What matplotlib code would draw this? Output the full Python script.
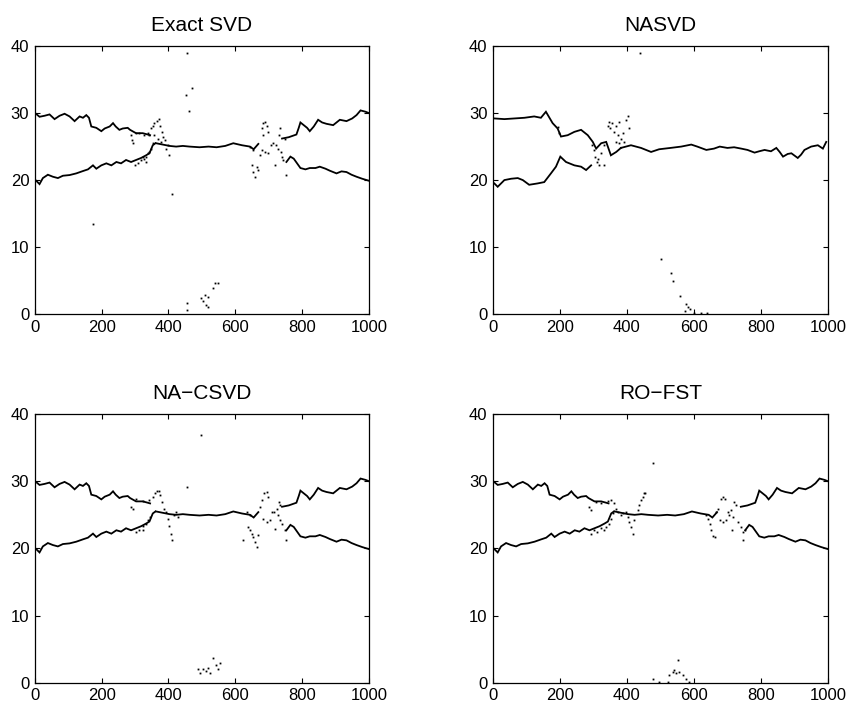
import numpy as np
import matplotlib
matplotlib.use("Agg")
import matplotlib.pyplot as plt

plt.rcParams["font.family"] = ["Liberation Sans", "DejaVu Sans"]

# ---- shared source tracks (Exact SVD / NA-CSVD / RO-FST look the same off the crossings) ----
up_left_x = [2, 14, 29, 44, 59, 74, 89, 104, 119, 134, 144, 154, 162, 169, 184, 199,
             209, 224, 234, 242, 253, 263, 278, 285, 303, 323, 338, 345]
up_left_y = [29.95, 29.45, 29.6, 29.8, 29.1, 29.6, 29.9, 29.5, 28.8, 29.5, 29.3, 29.7,
             29.3, 28.0, 27.8, 27.3, 27.7, 28.0, 28.5, 28.0, 27.5, 27.7, 27.8, 27.5,
             27.0, 27.0, 26.8, 26.7]
lo_left_x = [2, 14, 24, 39, 54, 69, 84, 104, 124, 144, 159, 174, 184, 199, 214, 229,
             244, 258, 273, 288, 303, 318, 333, 343, 353, 361]
lo_left_y = [20.0, 19.4, 20.3, 20.8, 20.5, 20.3, 20.65, 20.75, 21.0, 21.35, 21.6, 22.2,
             21.7, 22.2, 22.5, 22.2, 22.7, 22.5, 23.0, 22.7, 23.0, 23.3, 23.7, 24.0,
             25.2, 25.5]
mid_x = [363, 383, 403, 423, 443, 463, 493, 520, 544, 570, 594, 620, 644, 655, 669]
mid_y = [25.5, 25.3, 25.1, 25.0, 25.1, 25.0, 24.9, 25.0, 24.9, 25.1, 25.5, 25.2, 25.0,
         24.6, 25.4]
up_right_x = [740, 760, 783, 790, 795, 805, 815, 823, 835, 848, 860, 873, 893, 913, 933,
              950, 963, 975, 990, 1000]
up_right_y = [26.2, 26.4, 26.8, 27.8, 28.6, 28.2, 27.8, 27.3, 28.0, 29.0, 28.6, 28.4,
              28.2, 29.0, 28.8, 29.2, 29.7, 30.4, 30.2, 30.0]
lo_right_x = [753, 765, 775, 785, 795, 810, 823, 840, 853, 870, 883, 903, 918, 933, 948,
              963, 980, 1000]
lo_right_y = [22.7, 23.5, 23.2, 22.5, 21.8, 21.6, 21.8, 21.8, 22.0, 21.7, 21.4, 21.0,
              21.3, 21.2, 20.8, 20.5, 20.2, 19.9]

# ---- NASVD tracks ----
na_up_x = [4, 34, 64, 94, 123, 143, 158, 178, 193, 203, 223, 243, 263, 283, 298, 308,
           323, 338, 352, 368, 382]
na_up_y = [29.2, 29.1, 29.2, 29.3, 29.5, 29.3, 30.2, 28.5, 27.7, 26.5, 26.7, 27.2, 27.5,
           26.7, 25.7, 24.7, 25.5, 25.7, 23.7, 24.2, 24.8]
na_lo_x = [4, 14, 34, 54, 74, 89, 108, 133, 153, 173, 188, 201, 218, 243, 263, 278, 293]
na_lo_y = [19.5, 19.0, 20.0, 20.2, 20.3, 20.0, 19.3, 19.5, 19.7, 21.0, 22.0, 23.5, 22.7,
           22.2, 22.0, 21.5, 22.2]
na_mid_x = [382, 412, 442, 472, 496, 530, 562, 592, 610, 637, 660, 677, 700, 720, 741,
            760, 781, 795, 811, 830, 846, 856, 866, 880, 891, 910, 920, 930, 950, 970,
            985, 995]
na_mid_y = [24.8, 25.2, 24.8, 24.2, 24.6, 24.8, 25.0, 25.3, 25.0, 24.5, 24.7, 25.0, 24.8,
            24.9, 24.7, 24.5, 24.1, 24.3, 24.5, 24.3, 24.8, 24.2, 23.5, 23.9, 24.0, 23.3,
            23.8, 24.5, 25.0, 25.2, 24.7, 25.7]

# ---- scattered estimates around the crossings and near 0 deg ----
svd_pts_x = [289, 292, 294, 304, 313, 328, 338, 343, 348, 353, 358, 365, 371, 375, 381,
             385, 391, 398, 403, 393, 378, 368, 358, 299, 308, 318, 328, 333, 338, 343,
             323, 333, 348, 353,
             644, 654, 649, 654, 659, 664, 669, 674, 679, 684, 689, 694, 699, 684, 679,
             689, 699, 706, 714, 722, 729, 734, 732, 736, 739, 719, 743, 748, 753,
             454, 452, 469, 462, 411, 174,
             548, 538, 533, 518, 508, 498, 503, 513, 518, 454, 454]
svd_pts_y = [26.7, 26.0, 25.5, 27.1, 27.0, 26.8, 27.0, 26.7, 27.7, 28.0, 28.5, 28.8, 29.1,
             28.0, 27.2, 26.5, 26.0, 25.2, 23.8, 24.7, 25.7, 26.2, 26.7, 22.2, 22.5, 23.0,
             23.2, 23.5, 24.0, 24.2, 23.5, 22.7, 24.7, 25.5,
             25.0, 24.5, 22.2, 21.2, 20.5, 22.0, 21.5, 23.7, 27.7, 28.5, 28.7, 28.0, 27.2,
             26.7, 24.5, 24.2, 24.0, 25.2, 25.5, 25.2, 24.7, 27.7, 26.7, 24.2, 23.5, 22.2,
             23.0, 26.2, 20.8,
             38.9, 32.7, 33.8, 30.3, 17.9, 13.5,
             4.6, 4.6, 3.9, 2.6, 2.9, 2.4, 1.9, 1.4, 1.1, 1.6, 0.6]

nasvd_pts_x = [297, 302, 304, 310, 317, 314, 322, 332, 332, 342, 347, 350, 354, 362, 367,
               372, 377, 382, 387, 390, 397, 402, 407, 377, 367, 193, 198,
               438, 502, 532, 537, 557, 577, 582, 572, 587, 600, 620, 640]
nasvd_pts_y = [25.2, 24.5, 23.5, 22.7, 22.2, 23.2, 24.0, 22.2, 25.2, 28.0, 28.7, 27.7,
               28.5, 27.2, 28.0, 26.7, 28.7, 26.2, 27.0, 25.7, 29.0, 29.5, 27.7, 25.5,
               25.7, 27.9, 27.0,
               39.0, 8.2, 6.2, 5.0, 2.7, 1.5, 1.0, 0.5, 0.7, 0.1, 0.1, 0.1]

csvd_pts_x = [289, 294, 304, 324, 343, 353, 361, 365, 371, 375, 381, 388, 393, 398, 403,
              408, 411, 418, 423, 428, 455, 303, 313, 323, 333, 338, 345, 323,
              634, 644, 639, 644, 649, 654, 659, 664, 624, 669, 674, 679, 686, 694, 699,
              684, 694, 704, 709, 716, 724, 732, 734, 729, 734, 739, 719, 748, 753,
              493, 503, 513, 523, 533, 543, 548, 553, 488, 518, 498]
csvd_pts_y = [26.2, 25.9, 27.3, 27.0, 27.2, 27.7, 28.2, 28.5, 28.6, 27.9, 26.9, 25.9, 25.4,
              24.4, 23.4, 22.2, 21.2, 24.9, 25.4, 24.7, 29.1, 22.5, 22.7, 23.4, 23.7, 24.2,
              24.7, 22.7,
              25.4, 24.9, 23.2, 22.7, 22.2, 21.7, 21.0, 20.2, 21.2, 22.0, 26.2, 27.2, 28.2,
              28.4, 27.7, 24.4, 23.9, 24.2, 25.4, 25.4, 25.9, 26.9, 26.4, 24.9, 24.2, 23.7,
              22.9, 22.7, 21.2,
              1.5, 2.0, 1.7, 1.5, 3.7, 2.7, 2.0, 3.0, 2.0, 2.2, 36.9]

rofst_pts_x = [288, 293, 307, 322, 342, 352, 362, 367, 372, 382, 387, 397, 402, 407, 412,
               417, 422, 432, 437, 442, 447, 452, 454, 293, 302, 312, 322, 332, 337, 347,
               352, 357,
               637, 642, 647, 652, 657, 662, 667, 672, 682, 687, 692, 677, 687, 696, 701,
               706, 711, 716, 721, 726, 731, 741, 746, 751, 713, 746,
               477, 497, 522, 527, 536, 541, 551, 556, 566, 576, 586, 546, 477]
rofst_pts_y = [26.2, 25.7, 26.9, 26.7, 27.0, 27.2, 26.7, 25.9, 25.4, 24.9, 25.2, 25.4,
               24.7, 23.9, 23.2, 22.2, 24.2, 25.7, 26.4, 27.2, 27.7, 28.2, 28.3, 22.2,
               22.7, 22.5, 23.0, 22.7, 23.2, 23.7, 24.4, 25.2,
               24.9, 24.4, 23.7, 22.7, 21.9, 21.7, 25.4, 25.9, 27.4, 27.7, 27.4, 24.2,
               23.9, 24.2, 25.4, 24.9, 25.7, 24.7, 26.9, 26.4, 23.9, 23.2, 22.4, 22.7,
               22.7, 21.2,
               0.6, 0.1, 0.1, 1.1, 1.6, 1.9, 3.4, 1.6, 1.1, 0.6, 0.1, 1.4, 32.7]

shared_tracks = [(up_left_x, up_left_y), (lo_left_x, lo_left_y), (mid_x, mid_y),
                 (up_right_x, up_right_y), (lo_right_x, lo_right_y)]
nasvd_tracks = [(na_up_x, na_up_y), (na_lo_x, na_lo_y), (na_mid_x, na_mid_y)]

panels = [
    ("Exact SVD", shared_tracks, svd_pts_x, svd_pts_y),
    ("NASVD", nasvd_tracks, nasvd_pts_x, nasvd_pts_y),
    ("NA\u2212CSVD", shared_tracks, csvd_pts_x, csvd_pts_y),
    ("RO\u2212FST", shared_tracks, rofst_pts_x, rofst_pts_y),
]

boxes = [(0.041, 0.557, 0.393, 0.378), (0.580, 0.557, 0.394, 0.378),
         (0.041, 0.037, 0.393, 0.379), (0.580, 0.037, 0.394, 0.379)]

fig = plt.figure(figsize=(8.5, 7.09), dpi=100)
for (title, tracks, px, py), box in zip(panels, boxes):
    ax = fig.add_axes(box)
    for tx, ty in tracks:
        ax.plot(tx, ty, color="black", lw=1.3, solid_joinstyle="miter")
    ax.plot(px, py, ls="none", marker="s", ms=1.3, mec="none", mfc="black")
    ax.set_xlim(0, 1000)
    ax.set_ylim(0, 40)
    ax.set_xticks(np.arange(0, 1001, 200))
    ax.set_yticks(np.arange(0, 41, 10))
    ax.tick_params(direction="in", length=3.5, width=0.8, top=True, right=True,
                   labelsize=12, pad=4)
    for s in ax.spines.values():
        s.set_linewidth(0.9)
    ax.set_title(title, fontsize=15, pad=11)

fig.savefig("out.png", dpi=100)
